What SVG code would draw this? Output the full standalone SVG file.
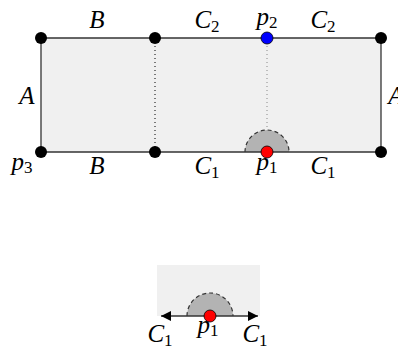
<svg xmlns="http://www.w3.org/2000/svg" width="398" height="354" viewBox="0 0 398 354">
<style>
.lbl{font-family:"Liberation Serif","DejaVu Serif",serif;font-style:italic;font-size:25px;fill:#000;text-anchor:middle}
.sub{font-style:normal;font-size:17px}
.dot{fill:#000}
.edge{stroke:#333;stroke-width:1.3;fill:none}
.half{fill:#b3b3b3;stroke:none}
.arc{fill:none;stroke:#333;stroke-width:1.2;stroke-dasharray:4 3}
</style>
<defs>
<marker id="arr" viewBox="0 0 10 10" refX="10" refY="5" markerWidth="10" markerHeight="10" markerUnits="userSpaceOnUse" orient="auto-start-reverse">
<path d="M0,0 L10,5 L0,10 Z" fill="#000"/>
</marker>
</defs>
<g id="region">
<rect x="41" y="38" width="340" height="114" fill="#f0f0f0"/>
<path class="half" d="M245,152 A22,22 0 0 1 289,152 Z"/>
<path class="arc" d="M245,152 A22,22 0 0 1 289,152"/>
</g>
<g id="connectors">
<line class="edge" x1="41" y1="38" x2="381" y2="38"/>
<line class="edge" x1="41" y1="152" x2="381" y2="152"/>
<line class="edge" x1="41" y1="38" x2="41" y2="152"/>
<line class="edge" x1="381" y1="38" x2="381" y2="152"/>
<line x1="155" y1="38" x2="155" y2="152" stroke="#000" stroke-width="1" stroke-dasharray="1 3"/>
<line x1="267" y1="38" x2="267" y2="130" stroke="#888" stroke-width="1" stroke-dasharray="1 3"/>
</g>
<g id="n1"><circle class="dot" cx="41" cy="38" r="6"/></g>
<g id="n2"><circle class="dot" cx="155" cy="38" r="6"/></g>
<g id="p2"><circle cx="267" cy="38" r="6" fill="#0000ff" stroke="#000" stroke-width="0.8"/></g>
<g id="n4"><circle class="dot" cx="381" cy="38" r="6"/></g>
<g id="p3"><circle class="dot" cx="41" cy="152" r="6"/></g>
<g id="n6"><circle class="dot" cx="155" cy="152" r="6"/></g>
<g id="p1"><circle cx="267" cy="152" r="6" fill="#ff0000" stroke="#000" stroke-width="0.8"/></g>
<g id="n8"><circle class="dot" cx="381" cy="152" r="6"/></g>
<g id="labels">
<text class="lbl" x="97" y="28">B</text>
<text class="lbl" x="207" y="28">C<tspan class="sub" dy="4">2</tspan></text>
<text class="lbl" x="267" y="25">p<tspan class="sub" dy="3">2</tspan></text>
<text class="lbl" x="323" y="28">C<tspan class="sub" dy="4">2</tspan></text>
<text class="lbl" x="27" y="104">A</text>
<text class="lbl" x="396" y="104">A</text>
<text class="lbl" x="22" y="170">p<tspan class="sub" dy="3">3</tspan></text>
<text class="lbl" x="97" y="174">B</text>
<text class="lbl" x="207" y="174">C<tspan class="sub" dy="4">1</tspan></text>
<text class="lbl" x="267" y="170">p<tspan class="sub" dy="3">1</tspan></text>
<text class="lbl" x="323" y="174">C<tspan class="sub" dy="4">1</tspan></text>
</g>
<g id="inset">
<rect x="157" y="265" width="103" height="51" fill="#f0f0f0"/>
<path class="half" d="M187,316 A23,23 0 0 1 233,316 Z"/>
<path class="arc" d="M187,316 A23,23 0 0 1 233,316"/>
</g>
<g id="inset-connectors">
<line x1="210" y1="316" x2="161" y2="316" stroke="#333" stroke-width="1.3" marker-end="url(#arr)"/>
<line x1="210" y1="316" x2="258" y2="316" stroke="#333" stroke-width="1.3" marker-end="url(#arr)"/>
</g>
<g id="inset-p1"><circle cx="210" cy="316" r="6" fill="#ff0000" stroke="#000" stroke-width="0.8"/></g>
<g id="inset-labels">
<text class="lbl" x="160" y="342">C<tspan class="sub" dy="4">1</tspan></text>
<text class="lbl" x="208" y="333">p<tspan class="sub" dy="3">1</tspan></text>
<text class="lbl" x="255" y="342">C<tspan class="sub" dy="4">1</tspan></text>
</g>
</svg>
